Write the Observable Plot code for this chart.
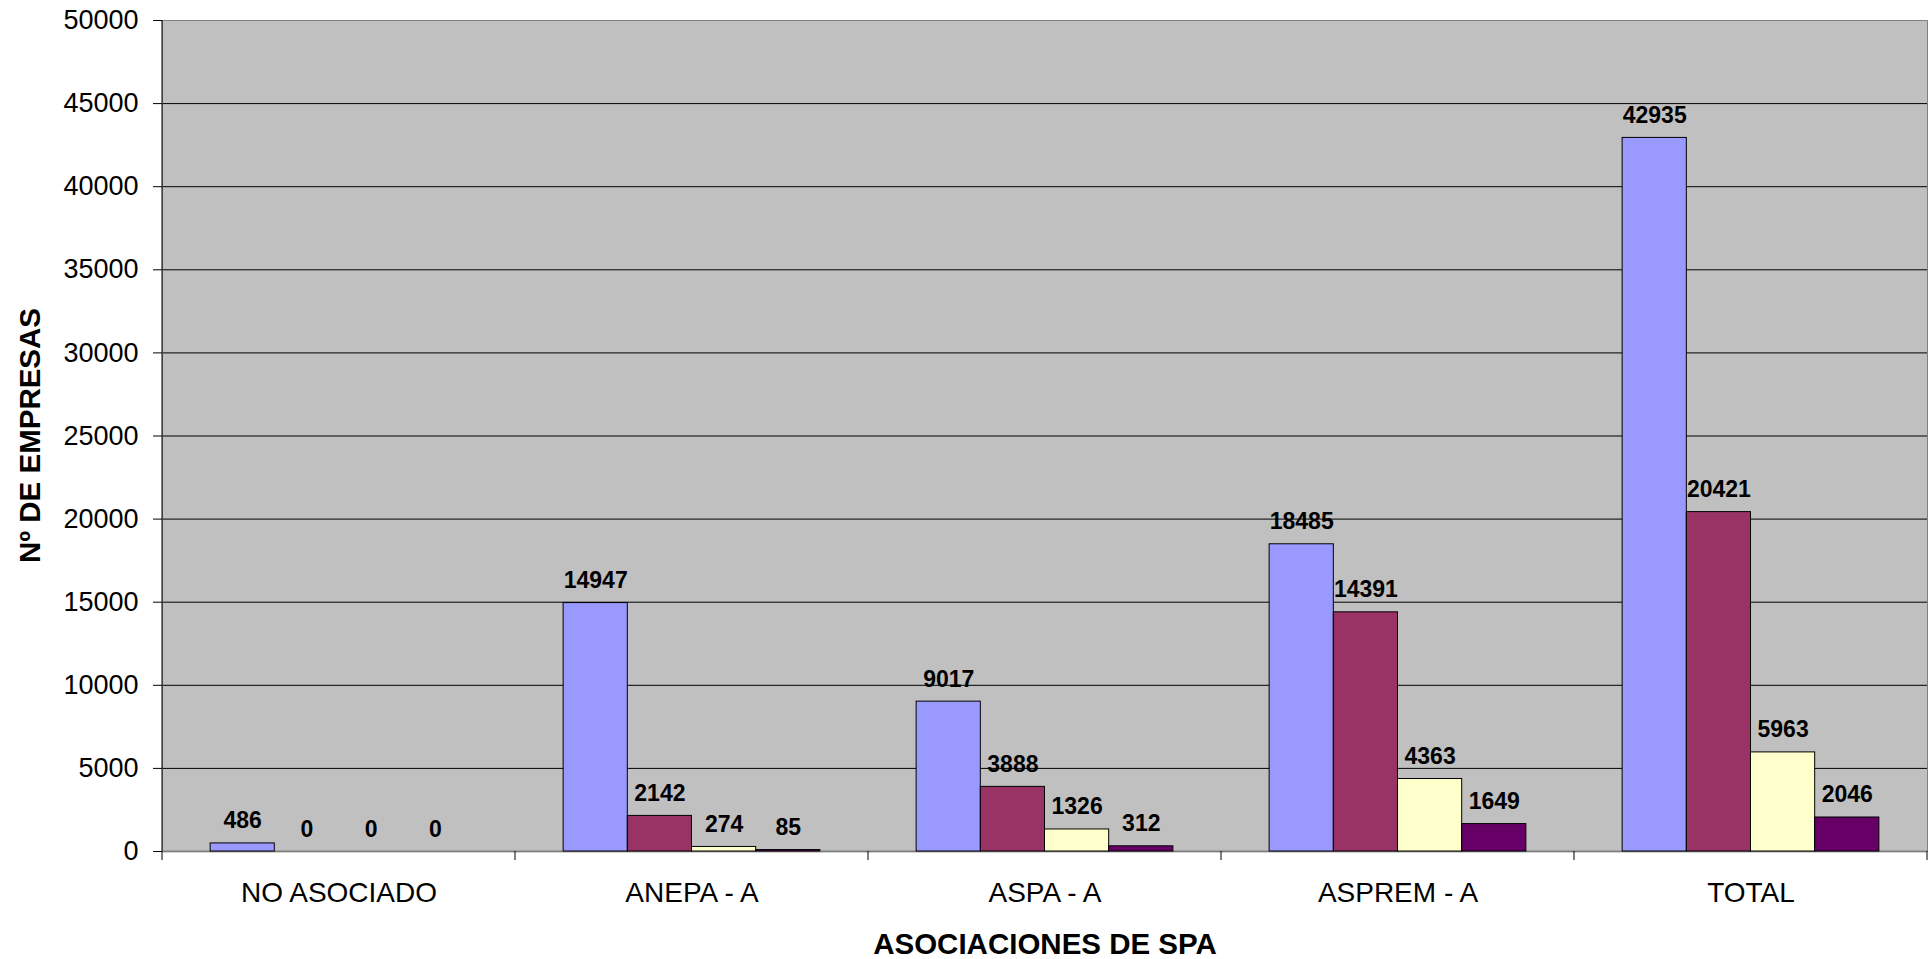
<!DOCTYPE html>
<html>
<head>
<meta charset="utf-8">
<script src="https://cdn.jsdelivr.net/npm/d3@7"></script>
<script src="https://cdn.jsdelivr.net/npm/@observablehq/plot@0.6"></script>
<style>
  html, body { margin: 0; padding: 0; background: white; }
  svg { display: block; }
</style>
</head>
<body>
<div id="chart"></div>
<script>
const categories = ["NO ASOCIADO", "ANEPA - A", "ASPA - A", "ASPREM - A", "TOTAL"];
const series = ["Serie1", "Serie2", "Serie3", "Serie4"];
const serie1 = [486, 14947, 9017, 18485, 42935];
const serie2 = [0, 2142, 3888, 14391, 20421];
const serie3 = [0, 274, 1326, 4363, 5963];
const serie4 = [0, 85, 312, 1649, 2046];
const colors = ["#9999FF", "#993366", "#FFFFCC", "#660066"];
const yTicks = [0, 5000, 10000, 15000, 20000, 25000, 30000, 35000, 40000, 45000, 50000];
const yTitle = "Nº DE EMPRESAS";
const xTitle = "ASOCIACIONES DE SPA";

const seriesValues = [serie1, serie2, serie3, serie4];
const rows = [];
categories.forEach((c, i) => {
  series.forEach((s, j) => rows.push({category: c, series: s, value: seriesValues[j][i]}));
});

const font = "'Liberation Sans', Arial, sans-serif";

const plot = Plot.plot({
  width: 1932,
  height: 959,
  marginLeft: 162,
  marginRight: 5,
  marginTop: 20,
  marginBottom: 108,
  style: {fontFamily: font, background: "white", color: "black"},
  fx: {domain: categories, padding: 0, round: false, label: null},
  x: {domain: series, paddingInner: 0, paddingOuter: 0.75, round: false, axis: null},
  y: {domain: [0, 50000], label: null},
  color: {domain: series, range: colors},
  marks: [
    Plot.frame({fill: "#C0C0C0", facet: "super"}),
    Plot.gridY(yTicks.filter(d => d > 0 && d < 50000), {stroke: "black", strokeOpacity: 1, strokeWidth: 1}),
    Plot.ruleY([0], {stroke: "#404040", strokeWidth: 1.5}),
    Plot.frame({stroke: "#808080", facet: "super"}),
    Plot.barY(rows, {fx: "category", x: "series", y: "value", fill: "series", stroke: "black", strokeWidth: 1, inset: 0}),
    Plot.text(rows, {fx: "category", x: "series", y: "value", text: d => String(d.value), lineAnchor: "bottom", dy: -15, fontSize: 23, fontWeight: "bold", fill: "black"}),
    Plot.axisY({ticks: yTicks, tickFormat: d => String(d), tickSize: 9, tickPadding: 15, fontSize: 27, label: null}),
    Plot.axisFx({anchor: "bottom", tickSize: 0, tickPadding: 31, fontSize: 28, label: null}),
    Plot.text([xTitle], {frameAnchor: "bottom", dy: 102, fontSize: 29.5, fontWeight: "bold", fill: "black", facet: "super"})
  ]
});

document.getElementById("chart").appendChild(plot);

// left axis line and category separator ticks, positioned through Plot's scales
const fx = plot.scale("fx");
const yScale = plot.scale("y");
const bounds = categories.map(c => fx.apply(c));
bounds.push(fx.apply(categories[categories.length - 1]) + fx.bandwidth);
const xLeft = bounds[0];
const y0 = yScale.apply(0), yTop = yScale.apply(50000);

const g = d3.select(plot).append("g").attr("stroke", "black").attr("stroke-width", 1);
g.selectAll("line.sep").data(bounds).join("line").attr("class", "sep")
  .attr("x1", d => d).attr("x2", d => d)
  .attr("y1", y0).attr("y2", y0 + 9);
g.append("line").attr("x1", xLeft).attr("x2", xLeft).attr("y1", yTop).attr("y2", y0);

// y axis title
d3.select(plot).append("text")
  .attr("transform", `translate(${xLeft - 133},${(y0 + yTop) / 2}) rotate(-90)`)
  .attr("text-anchor", "middle")
  .attr("dominant-baseline", "central")
  .attr("font-family", font)
  .attr("font-size", 29.5)
  .attr("font-weight", "bold")
  .attr("fill", "black")
  .text(yTitle);
</script>
</body>
</html>
